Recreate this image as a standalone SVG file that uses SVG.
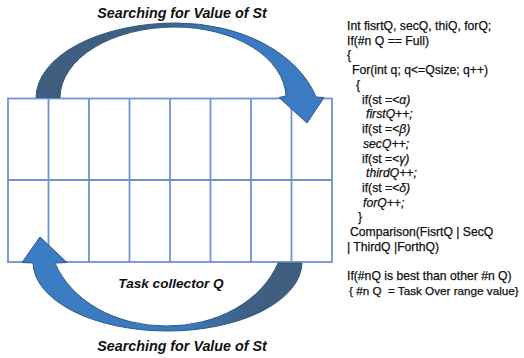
<svg xmlns="http://www.w3.org/2000/svg" width="524" height="358" viewBox="0 0 524 358">
  <defs>
    <linearGradient id="gradTop" gradientUnits="userSpaceOnUse" x1="36" y1="0" x2="324" y2="0">
      <stop offset="0" stop-color="#3f5e7e"/>
      <stop offset="0.43" stop-color="#3f6083"/>
      <stop offset="0.62" stop-color="#3b79bf"/>
      <stop offset="1" stop-color="#3b7cc4"/>
    </linearGradient>
    <linearGradient id="gradBottom" gradientUnits="userSpaceOnUse" x1="22" y1="0" x2="302" y2="0">
      <stop offset="0" stop-color="#3b7cc4"/>
      <stop offset="0.58" stop-color="#3b79bf"/>
      <stop offset="0.8" stop-color="#3f6083"/>
      <stop offset="1" stop-color="#3f5e7e"/>
    </linearGradient>
  </defs>
  <style>
    .cell { fill: #ffffff; stroke: #7192d0; stroke-width: 1.8; }
    .gridline { stroke: #7192d0; stroke-width: 1.8; fill: none; }
    .arrow { stroke: #2f5884; stroke-width: 1; stroke-linejoin: miter; }
    .title { font-family: "Liberation Sans", Arial, sans-serif; font-weight: bold; font-style: italic; fill: #111111; text-anchor: middle; }
    .code { font-family: "Liberation Sans", Arial, sans-serif; font-size: 12.2px; fill: #111111; stroke: #111111; stroke-width: 0.25; white-space: pre; }
    .it { font-style: italic; }
  </style>
  <rect width="524" height="358" fill="#ffffff"/>

  <!-- task collector queue: 2 rows x 8 slots -->
  <g id="queue">
    <rect class="cell" x="8" y="98.5" width="324" height="163.5"/>
    <path class="gridline" d="M8,180H332 M48.5,98.5V262 M89,98.5V262 M129.5,98.5V262 M170,98.5V262 M210.5,98.5V262 M251,98.5V262 M291.5,98.5V262"/>
  </g>

  <!-- curved block arrows circling the queue -->
  <g id="connectors">
    <path id="arrow-top" class="arrow" fill="url(#gradTop)"
      d="M36,97.5 A140,75 0 0 1 176,23 A145.6,102 0 0 1 316,97 L324,97.5 L307,123 L279,97.5 L286,96 A111,71 0 0 0 175,27 A115,71 0 0 0 60,97.5 Z"/>
    <path id="arrow-bottom" class="arrow" fill="url(#gradBottom)"
      d="M302,263 A134.5,69 0 0 1 167.5,331 A134.5,69 0 0 1 33,263 L22,262.5 L40,237 L67,262.5 L55,263 A116.6,92 0 0 0 166.5,326 A116.6,92 0 0 0 278,263 Z"/>
  </g>

  <g id="labels">
    <text class="title" x="182" y="18" font-size="14.3">Searching for Value of St</text>
    <text class="title" x="171" y="287.5" font-size="13.6">Task collector Q</text>
    <text class="title" x="182" y="351" font-size="14.3">Searching for Value of St</text>
  </g>

  <!-- pseudo code for the queue comparison -->
  <g id="code">
    <text class="code" x="347" y="30">Int fisrtQ, secQ, thiQ, forQ;</text>
    <text class="code" x="347" y="44.7">If(#n Q == Full)</text>
    <text class="code" x="347" y="59.4">{</text>
    <text class="code" x="352" y="74.2">For(int q; q&lt;=Qsize; q++)</text>
    <text class="code" x="356" y="88.9">{</text>
    <text class="code" x="362" y="103.6">if(st =&lt;<tspan class="it">α)</tspan></text>
    <text class="code it" x="366" y="118.3">firstQ++;</text>
    <text class="code" x="362" y="133">if(st =&lt;<tspan class="it">β)</tspan></text>
    <text class="code it" x="363" y="147.8">secQ++;</text>
    <text class="code" x="362" y="162.5">if(st =&lt;<tspan class="it">γ)</tspan></text>
    <text class="code it" x="366" y="177.2">thirdQ++;</text>
    <text class="code" x="362" y="191.9">if(st =&lt;<tspan class="it">δ)</tspan></text>
    <text class="code it" x="363" y="206.6">forQ++;</text>
    <text class="code" x="358" y="221.4">}</text>
    <text class="code" x="350" y="236">Comparison(FisrtQ | SecQ</text>
    <text class="code" x="347" y="250.8">| ThirdQ |ForthQ)</text>
    <text class="code" x="347" y="280.2">If(#nQ is best than other #n Q)</text>
    <text class="code" x="349" y="295" style="font-size:11.7px">{ #n Q  = Task Over range value}</text>
  </g>
</svg>
